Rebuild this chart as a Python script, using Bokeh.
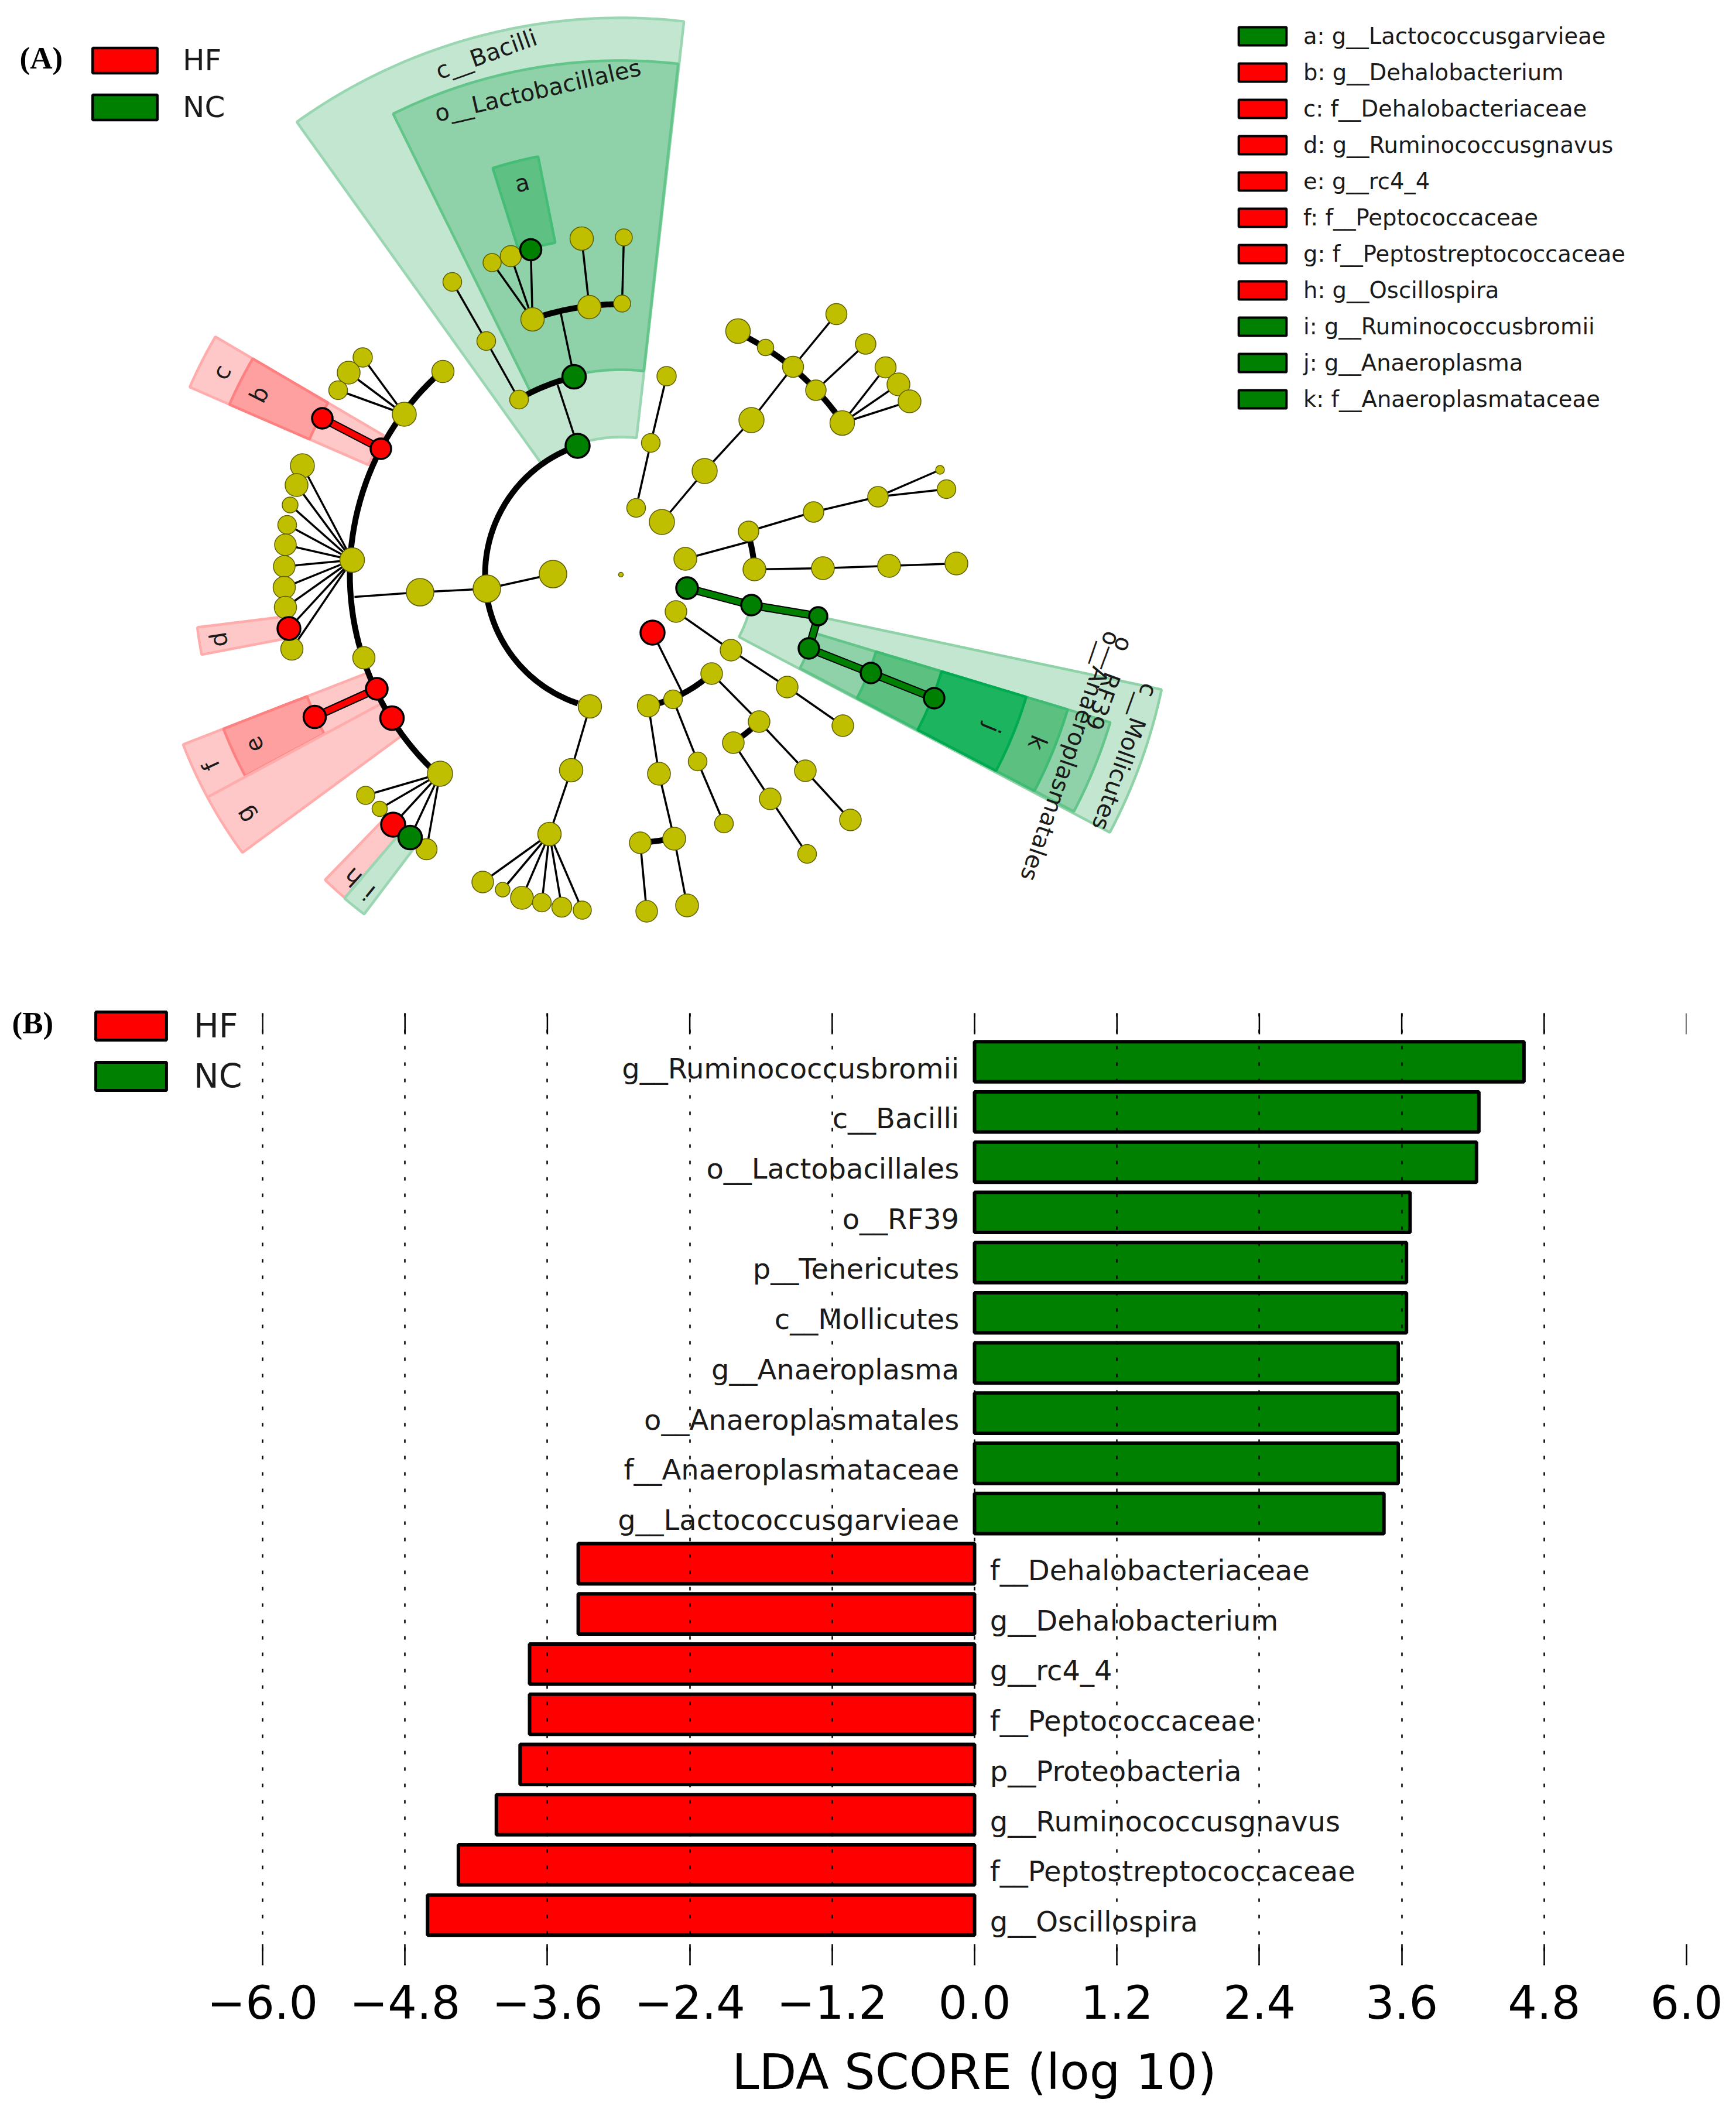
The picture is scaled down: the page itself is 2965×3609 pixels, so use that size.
import math
from bokeh.embed import file_html
from bokeh.resources import INLINE
from bokeh.layouts import column
from bokeh.models import (FixedTicker, Grid, Legend, LegendItem, LinearAxis, Range1d)
from bokeh.plotting import figure
from bokeh.core.properties import value

# ---------------- bar chart data ----------------
bar_labels = ["g__Ruminococcusbromii", "c__Bacilli", "o__Lactobacillales", "o__RF39", "p__Tenericutes",
              "c__Mollicutes", "g__Anaeroplasma", "o__Anaeroplasmatales", "f__Anaeroplasmataceae",
              "g__Lactococcusgarvieae", "f__Dehalobacteriaceae", "g__Dehalobacterium", "g__rc4_4",
              "f__Peptococcaceae", "p__Proteobacteria", "g__Ruminococcusgnavus",
              "f__Peptostreptococcaceae", "g__Oscillospira"]
bar_values = [4.63, 4.25, 4.23, 3.67, 3.64, 3.64, 3.57, 3.57, 3.57, 3.45,
              -3.34, -3.34, -3.75, -3.75, -3.83, -4.03, -4.35, -4.61]
x_ticks = [-6.0, -4.8, -3.6, -2.4, -1.2, 0.0, 1.2, 2.4, 3.6, 4.8, 6.0]
x_tick_labels = ["\u22126.0", "\u22124.8", "\u22123.6", "\u22122.4", "\u22121.2", "0.0", "1.2", "2.4", "3.6", "4.8", "6.0"]

# ---------------- legend data ----------------
class_names = ["HF", "NC"]
class_colors = ["#ff0000", "#008000"]
key_labels = ["a: g__Lactococcusgarvieae", "b: g__Dehalobacterium", "c: f__Dehalobacteriaceae",
              "d: g__Ruminococcusgnavus", "e: g__rc4_4", "f: f__Peptococcaceae",
              "g: f__Peptostreptococcaceae", "h: g__Oscillospira", "i: g__Ruminococcusbromii",
              "j: g__Anaeroplasma", "k: f__Anaeroplasmataceae"]
key_colors = ["#008000", "#ff0000", "#ff0000", "#ff0000", "#ff0000", "#ff0000", "#ff0000", "#ff0000",
              "#008000", "#008000", "#008000"]

# ---------------- cladogram data (x, y, diameter) ----------------
center = (1060, 981)
yellow_nodes = [
    (831,1005,47),(944,980,47),(1007,1206,40),(717,1011,47),(601,956,42),(690,707,41),(756,634,38),
    (619,610,33),(595,636,39),(577,666,32),(516,795,41),(506,828,39),(495,862,27),(490,896,32),
    (487,930,37),(485,967,37),(485,1003,38),(487,1037,38),(498,1108,38),(621,1123,38),(751,1321,43),
    (624,1358,31),(648,1381,26),(728,1450,36),(975,1315,40),(938,1424,40),(824,1506,37),(858,1519,25),
    (891,1533,39),(925,1541,32),(959,1549,34),(994,1554,31),(886,682,32),(830,582,32),(772,481,32),
    (909,545,40),(1006,524,40),(1062,518,29),(840,448,31),(872,437,36),(993,407,40),(1065,405,29),
    (1138,642,33),(1111,756,32),(1086,867,32),(1130,891,43),(1203,804,43),(1283,717,43),(1354,626,36),
    (1260,565,42),(1307,593,28),(1428,536,36),(1393,666,35),(1478,587,35),(1438,722,42),(1512,627,36),
    (1534,656,39),(1553,685,39),(1170,954,39),(1278,907,35),(1389,874,35),(1499,848,35),(1605,802,15),
    (1616,835,32),(1288,972,39),(1405,970,39),(1518,966,39),(1633,962,39),(1154,1044,37),(1248,1110,37),
    (1344,1173,37),(1439,1239,37),(1215,1150,37),(1149,1194,32),(1107,1205,38),(1296,1232,37),
    (1252,1268,37),(1375,1316,37),(1452,1400,37),(1315,1364,37),(1378,1458,32),(1191,1300,32),
    (1236,1406,32),(1125,1321,39),(1151,1432,39),(1093,1439,37),(1104,1556,37),(1173,1546,39),
    (1060,981,8),
]
red_nodes = [(650,766,35),(550,714,35),(493,1073,39),(643,1176,37),(537,1224,38),(669,1226,40),
             (671,1408,41),(1114,1080,41)]
green_nodes = [(986,761,41),(980,643,40),(906,426,36),(700,1430,40),(1173,1004,37),(1283,1033,35),
               (1397,1052,31),(1381,1107,35),(1487,1149,35),(1595,1192,35)]

thin_links = [
    (831,1005,944,980),(831,1005,717,1011),(717,1011,605,1019),
    (601,956,516,795),(601,956,506,828),(601,956,495,862),(601,956,490,896),(601,956,487,930),
    (601,956,485,967),(601,956,485,1003),(601,956,487,1037),(601,956,493,1073),(601,956,498,1108),
    (690,707,619,610),(690,707,595,636),(690,707,577,666),
    (751,1321,624,1358),(751,1321,648,1381),(751,1321,671,1408),(751,1321,700,1430),(751,1321,728,1450),
    (1007,1206,975,1315),(975,1315,938,1424),
    (938,1424,824,1506),(938,1424,858,1519),(938,1424,891,1533),(938,1424,925,1541),(938,1424,959,1549),
    (938,1424,994,1554),
    (986,761,952,657),(886,682,830,582),(830,582,772,481),(980,643,957,533),
    (909,545,840,448),(909,545,872,437),(909,545,906,426),(1006,524,993,407),(1062,518,1065,405),
    (1138,642,1111,756),(1111,756,1086,867),(1130,891,1203,804),(1203,804,1283,717),(1283,717,1354,626),
    (1354,626,1428,536),(1393,666,1478,587),(1438,722,1512,627),(1438,722,1534,656),(1438,722,1553,685),
    (1170,954,1281,924),(1278,907,1389,874),(1389,874,1499,848),(1499,848,1605,802),(1499,848,1616,835),
    (1288,972,1405,970),(1405,970,1518,966),(1518,966,1633,962),
    (1154,1044,1248,1110),(1248,1110,1344,1173),(1344,1173,1439,1239),
    (1114,1080,1166,1185),(1149,1194,1191,1300),(1191,1300,1236,1406),
    (1215,1150,1296,1232),(1296,1232,1375,1316),(1375,1316,1452,1400),
    (1252,1268,1315,1364),(1315,1364,1378,1458),
    (1107,1205,1125,1321),(1125,1321,1151,1432),(1093,1439,1104,1556),(1151,1432,1173,1546),
]
# thick arcs: radius, start angle, end angle (degrees clockwise from up)
arc_radius = [232, 463, 347, 462, 459, 228, 229, 345, 459]
arc_start = [-161.5, -41.3, -30.3, -19.2, 25.6, 71.1, 138.0, 138.5, 176.0]
arc_end = [-18.8, -137.6, -13.5, 0.2, 55.5, 87.7, 168.6, 146.3, 168.6]

coloured_links = [
    (650,766,550,714,"#ff0000"),(643,1176,537,1224,"#ff0000"),
    (1173,1004,1283,1033,"#008000"),(1283,1033,1397,1052,"#008000"),(1397,1052,1381,1107,"#008000"),
    (1381,1107,1487,1149,"#008000"),(1487,1149,1595,1192,"#008000"),
]

# highlighted clades: inner radius, outer radius, start, end, fill, edge
sectors = [
    (235,951,-35.6,6.5,"#c3e6d0","#9ad6b1"),
    (350,878,-26.3,6.4,"#8fd1a8","#64c58a"),
    (578,728,-17.5,-11.2,"#5ec083","#45bd77"),
    (470,803,-66.5,-59.6,"#ffc8c8","#ffacac"),
    (580,729,-66.5,-59.6,"#ffa0a0","#ff8080"),
    (582,729,-100.8,-97.1,"#ffc8c8","#ffacac"),
    (465,802,-118.3,-111.2,"#ffc8c8","#ffacac"),
    (575,728,-118.2,-111.2,"#ffa0a0","#ff8080"),
    (465,802,-126.3,-118.3,"#ffc8c8","#ffacac"),
    (582,726,-139.5,-135.9,"#ffc8c8","#ffacac"),
    (585,727,-142.9,-139.5,"#c3e6d0","#9ad6b1"),
    (228,944,102.0,117.8,"#c3e6d0","#8fd2a8"),
    (345,873,106.8,117.6,"#8fd1a8","#64c58a"),
    (455,797,106.8,117.6,"#5cc080","#3fbb73"),
    (572,723,106.8,117.6,"#1db45f","#00aa50"),
]

sector_text = ["c__Bacilli", "o__Lactobacillales", "a", "b", "c", "d", "e", "f", "g", "h", "i", "j", "k",
               "c__Mollicutes", "o__Anaeroplasmatales", "o__RF39"]
sector_text_x = [830, 918, 891, 442, 378, 373, 433, 360, 418, 602, 630, 1694, 1772, 1921, 1828, 1894]
sector_text_y = [92, 154, 312, 673, 635, 1092, 1272, 1307, 1392, 1498, 1525, 1244, 1268, 1292, 1291, 1167]
sector_text_rot = [19.6, 12.9, 14, 63, 63, 99, 115, 115, 122, 138, 141, -112, -112, -109.4, -109, -110]

FONT = value("DejaVu Sans")

def polar(r, a):
    t = math.radians(a)
    return center[0] + r * math.sin(t), center[1] - r * math.cos(t)

def arc_points(r, a0, a1, n=50):
    return [polar(r, a0 + (a1 - a0) * i / n) for i in range(n + 1)]

# ---------------- panel A (its canvas also holds panel B's heading and legend) ----------------
top_height = 1880
top = figure(width=2960, height=top_height, x_range=Range1d(0, 2960), y_range=Range1d(top_height, 0),
             x_axis_type=None, y_axis_type=None, toolbar_location=None, output_backend="svg",
             min_border=0, outline_line_color=None, frame_align=False)
top.grid.visible = False

for r0, r1, a0, a1, fill, edge in sectors:
    pts = arc_points(r1, a0, a1) + arc_points(r0, a1, a0)
    top.patch([q[0] for q in pts], [q[1] for q in pts], fill_color=fill, line_color=edge, line_width=4.5)

top.multi_line([[l[0], l[2]] for l in thin_links], [[l[1], l[3]] for l in thin_links],
               line_color="black", line_width=3.5)
arcs = [arc_points(r, s, e) for r, s, e in zip(arc_radius, arc_start, arc_end)]
top.multi_line([[q[0] for q in a] for a in arcs], [[q[1] for q in a] for a in arcs],
               line_color="black", line_width=10)
top.multi_line([[l[0], l[2]] for l in coloured_links], [[l[1], l[3]] for l in coloured_links],
               line_color="black", line_width=14)
top.multi_line([[l[0], l[2]] for l in coloured_links], [[l[1], l[3]] for l in coloured_links],
               line_color=[l[4] for l in coloured_links], line_width=10)

top.scatter([n[0] for n in yellow_nodes], [n[1] for n in yellow_nodes], size=[n[2] for n in yellow_nodes],
            fill_color="#bfbf00", line_color="#5f5f00", line_width=1.5)
top.scatter([n[0] for n in red_nodes], [n[1] for n in red_nodes], size=[n[2] for n in red_nodes],
            fill_color="#ff0000", line_color="black", line_width=3.5)
top.scatter([n[0] for n in green_nodes], [n[1] for n in green_nodes], size=[n[2] for n in green_nodes],
            fill_color="#008000", line_color="black", line_width=3.5)

top.text(sector_text_x, sector_text_y, text=sector_text, angle=sector_text_rot, angle_units="deg",
         text_font=FONT, text_font_size="40px", text_align="center", text_baseline="middle",
         text_color="#1a1a1a")

top.text([33, 20], [98, 1746], text=["(A)", "(B)"], text_font=value("Liberation Serif"), text_font_style="bold",
         text_font_size="53px", text_baseline="alphabetic", text_color="black")

def legend_swatches(fig, colors, lw):
    return [fig.quad(left=[float("nan")], right=[float("nan")], top=[float("nan")], bottom=[float("nan")],
                     fill_color=c, line_color="black", line_width=lw) for c in colors]

r_cls = legend_swatches(top, class_colors, 4.5)
leg_a = Legend(items=[LegendItem(label=value(n), renderers=[r]) for n, r in zip(class_names, r_cls)],
               location=(144, top_height - 212), glyph_width=138, glyph_height=54, spacing=22, label_standoff=30,
               padding=0, margin=0, border_line_color=None, background_fill_alpha=0,
               label_text_font="DejaVu Sans", label_text_font_size="50px",
               label_text_color="#1a1a1a")
top.add_layout(leg_a)

r_key = legend_swatches(top, key_colors, 4)
leg_k = Legend(items=[LegendItem(label=value(n), renderers=[r]) for n, r in zip(key_labels, r_key)],
               location=(2105, top_height - 704), glyph_width=102, glyph_height=39, spacing=17, label_standoff=19,
               padding=0, margin=0, border_line_color=None, background_fill_alpha=0,
               label_text_font="DejaVu Sans", label_text_font_size="38.5px",
               label_text_color="#1a1a1a")
top.add_layout(leg_k)

r_cls2 = legend_swatches(top, class_colors, 5)
leg_b = Legend(items=[LegendItem(label=value(n), renderers=[r]) for n, r in zip(class_names, r_cls2)],
               location=(148, 9), glyph_width=151, glyph_height=60, spacing=20, label_standoff=32,
               padding=0, margin=0, border_line_color=None, background_fill_alpha=0,
               label_text_font="DejaVu Sans", label_text_font_size="57px",
               label_text_color="#1a1a1a")
top.add_layout(leg_b)

# ---------------- panel B ----------------
row = list(range(len(bar_labels)))
row_step = (3270.5 - 1813) / 17
y_frame_top = -(1813 - 1730) / row_step
bar = figure(width=2960, height=1965,
             x_range=Range1d(-6.005, 6),
             y_range=Range1d(17 + (3356 - 3270.5) / row_step, y_frame_top),
             x_axis_type=None, y_axis_type=None, toolbar_location=None, output_backend="svg",
             min_border_left=447, min_border_right=80, min_border_top=90, min_border_bottom=249,
             outline_line_color=None, frame_align=False, margin=(-240, 0, 0, 0),
             background_fill_color=None, border_fill_color=None)

bar.hbar(y=row, left=0, right=bar_values, height=0.8, line_color="black", line_width=6,
         fill_color=[class_colors[1] if v > 0 else class_colors[0] for v in bar_values])
bar.text([-0.13 if v > 0 else 0.13 for v in bar_values], row, text=bar_labels,
         text_align=["right" if v > 0 else "left" for v in bar_values], text_baseline="alphabetic",
         y_offset=11, text_font=FONT, text_font_size="48px", text_color="#1a1a1a")

ticker = FixedTicker(ticks=x_ticks)
overrides = dict(zip(x_ticks, x_tick_labels))
xb = LinearAxis(ticker=ticker, major_label_overrides=overrides, axis_label="LDA SCORE (log 10)",
                axis_line_color=None, major_tick_in=36, major_tick_out=0, minor_tick_line_color=None,
                major_tick_line_width=2.5, major_label_standoff=33, axis_label_standoff=40,
                major_label_text_font="DejaVu Sans", major_label_text_font_size="78px",
                major_label_text_color="black",
                axis_label_text_font="DejaVu Sans", axis_label_text_font_size="83px",
                axis_label_text_font_style="normal", axis_label_text_color="black")
bar.add_layout(xb, "below")
grid = Grid(dimension=0, ticker=FixedTicker(ticks=x_ticks[:-1]), grid_line_color="black",
            grid_line_width=2.5, grid_line_dash="6 22", level="overlay")
bar.add_layout(grid)
bar.segment(x0=x_ticks, x1=x_ticks, y0=y_frame_top, y1=y_frame_top + 36 / row_step,
            line_color="black", line_width=2.5)

layout = column(top, bar, spacing=0)
open("out.html", "w").write(file_html(layout, INLINE))
